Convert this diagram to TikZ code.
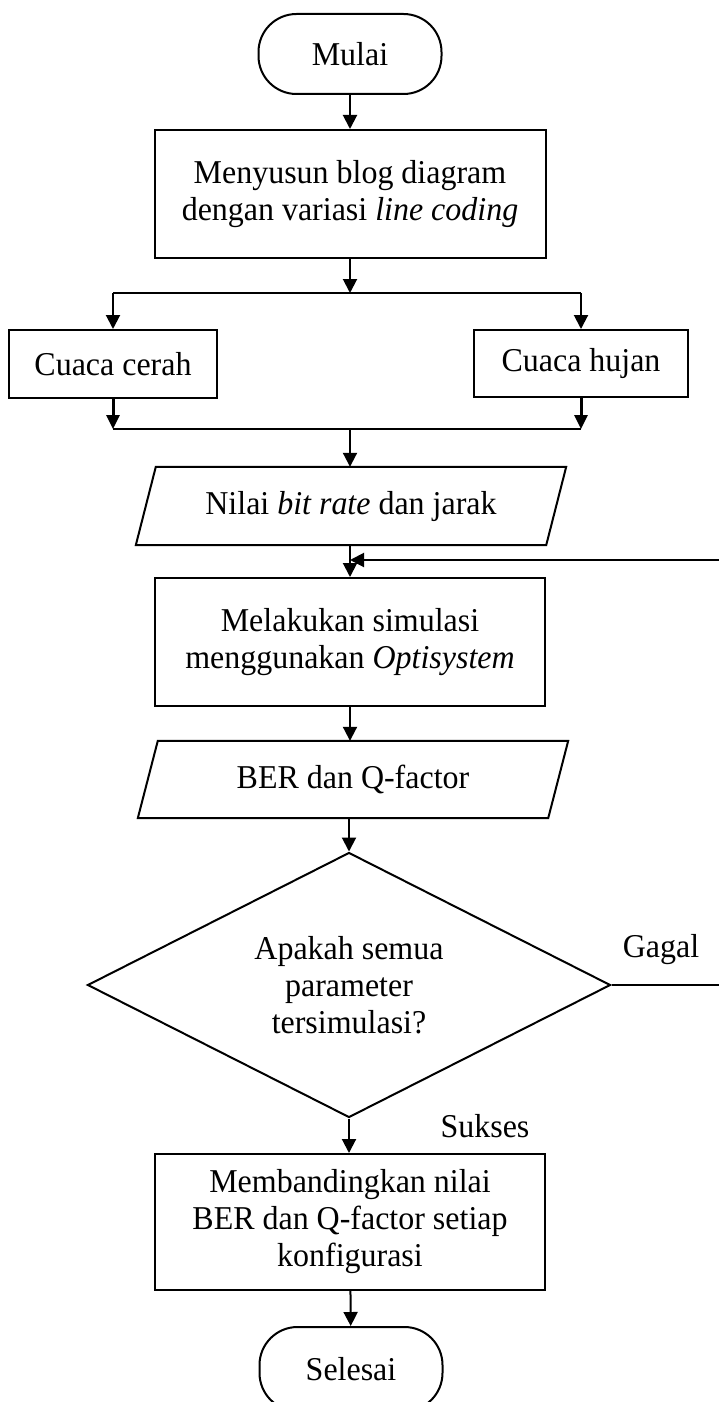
\documentclass[tikz,border=0pt]{standalone}
\usepackage{fontspec}
\setmainfont{Liberation Serif}[FakeStretch=0.96]
\usetikzlibrary{shapes.geometric,arrows.meta}
\begin{document}
\begin{tikzpicture}[x=1pt,y=-1pt,
  font=\fontsize{33.3}{37}\selectfont,
  box/.style={draw,line width=2pt,align=center,inner sep=0pt},
  term/.style={draw,line width=2pt,rounded corners=38pt,minimum width=183pt,minimum height=80pt,inner sep=0pt},
  io/.style={align=center,inner sep=0pt,minimum width=410pt,minimum height=78pt},
  iobox/.style={line width=2pt},
  dec/.style={draw,diamond,aspect=2,line width=2pt,align=center,inner sep=0pt,minimum width=523pt,minimum height=265pt},
  arr/.style={line width=2pt,-{Triangle[length=14pt,width=14pt]}},
  thickarr/.style={line width=3pt,-{Triangle[length=14pt,width=13pt]}},
  ln/.style={line width=1.4pt}]
\useasboundingbox (0,0) rectangle (719,1402);
\node[term] (mulai) at (350,54) {Mulai};
\node[box,minimum width=391pt,minimum height=128pt] (susun) at (350,194) {Menyusun blog diagram\\dengan variasi \textit{line coding}};
\coordinate (split) at (350,293);
\node[box,minimum width=208pt,minimum height=68pt] (cerah) at (113,364) {Cuaca cerah};
\node[box,minimum width=214pt,minimum height=67pt] (hujan) at (581,363.5) {Cuaca hujan};
\coordinate (merge) at (350,429);
\node[io] (nilai) at (351,506) {Nilai \textit{bit rate} dan jarak};
\draw[iobox] ([xshift=10pt]nilai.north west) -- ([xshift=10pt]nilai.north east) -- ([xshift=-10pt]nilai.south east) -- ([xshift=-10pt]nilai.south west) -- cycle;
\node[box,minimum width=390pt,minimum height=128pt] (sim) at (350,642) {Melakukan simulasi\\menggunakan \textit{Optisystem}};
\node[io,minimum height=77pt] (ber) at (353,779.5) {BER dan Q-factor};
\draw[iobox] ([xshift=10pt]ber.north west) -- ([xshift=10pt]ber.north east) -- ([xshift=-10pt]ber.south east) -- ([xshift=-10pt]ber.south west) -- cycle;
\node[dec] (dec) at (349,985) {Apakah semua\\parameter\\tersimulasi?};
\node[box,minimum width=390pt,minimum height=136pt] (banding) at (350,1222) {Membandingkan nilai\\BER dan Q-factor setiap\\konfigurasi};
\node[term,minimum height=84pt] (selesai) at (351,1369) {Selesai};
\node (gagal) at (661,950) {Gagal};
\node (sukses) at (485,1126) {Sukses};
\coordinate (loopR) at (740,560);
\coordinate (join) at (350,560);
% connectors
\draw[arr] (mulai) -- (susun);
\draw[arr] (susun) -- (split);
\draw[ln] (cerah.north |- split) -- (hujan.north |- split);
\draw[arr] (cerah.north |- split) -- (cerah.north);
\draw[arr] (hujan.north |- split) -- (hujan.north);
\draw[thickarr] (cerah.south) -- (cerah.south |- merge);
\draw[thickarr] (hujan.south) -- (hujan.south |- merge);
\draw[ln] (cerah.south |- merge) -- (hujan.south |- merge);
\draw[arr] (merge) -- (nilai.north -| merge);
\draw[arr] (nilai.south -| sim.north) -- (sim.north);
\draw[ln] (dec.east) -- (dec.east -| loopR) -- (loopR);
\draw[arr] (loopR) -- (join);
\draw[arr] (sim.south) -- (ber.north -| sim.south);
\draw[arr] (ber.south -| dec.north) -- (dec.north);
\draw[arr] (dec.south) -- (banding.north -| dec.south);
\draw[arr] (banding) -- (selesai);
\end{tikzpicture}
\end{document}
